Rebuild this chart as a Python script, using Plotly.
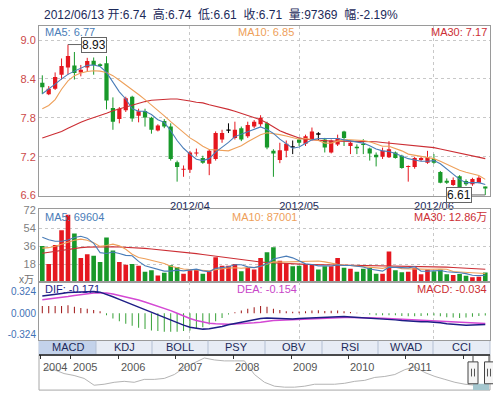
import plotly.graph_objects as go

W, H = 493, 399
FONT = "Liberation Sans, Arial, Noto Sans CJK SC, sans-serif"

# ---------------- data ----------------
date_ticks = [23, 40, 61]
date_labels = ["2012/04", "2012/05", "2012/06"]

opens = [8.34, 8.165, 8.25, 8.465, 8.575, 8.605, 8.50, 8.575, 8.68, 8.625,
         8.64, 7.95, 7.78, 7.915, 8.125, 7.83, 7.905, 7.80, 7.605, 7.75,
         7.665, 7.115, 7.00, 7.00, 7.25, 7.18, 7.09, 7.165, 7.465, 7.60,
         7.49, 7.64, 7.515, 7.665, 7.70, 7.715, 7.29, 7.15, 7.29, 7.34,
         7.465, 7.40, 7.465, 7.54, 7.465, 7.265, 7.39, 7.59, 7.365, 7.355,
         7.40, 7.325, 7.23, 7.20, 7.19, 7.265, 7.215, 7.04, 7.04, 7.15,
         7.105, 7.165, 6.965, 6.83, 6.765, 6.90, 6.825, 6.775, 6.80, 6.74]
highs = [8.455, 8.29, 8.50, 8.715, 8.93, 8.815, 8.615, 8.725, 8.73, 8.64,
         8.75, 8.115, 7.965, 8.125, 8.14, 7.94, 7.94, 7.815, 7.70, 7.78,
         7.715, 7.14, 7.065, 7.29, 7.325, 7.215, 7.315, 7.59, 7.615, 7.715,
         7.74, 7.665, 7.74, 7.765, 7.84, 7.74, 7.315, 7.415, 7.45, 7.45,
         7.49, 7.54, 7.65, 7.58, 7.49, 7.465, 7.54, 7.60, 7.45, 7.39,
         7.47, 7.34, 7.265, 7.34, 7.44, 7.28, 7.23, 7.065, 7.20, 7.20,
         7.29, 7.24, 6.98, 6.865, 6.88, 6.915, 6.85, 6.875, 6.90, 6.74]
lows = [8.165, 8.15, 8.23, 8.39, 8.465, 8.39, 8.44, 8.515, 8.465, 8.59,
        7.93, 7.615, 7.715, 7.89, 7.74, 7.73, 7.665, 7.555, 7.59, 7.64,
        7.14, 6.815, 6.89, 6.95, 7.215, 7.09, 6.915, 7.14, 7.415, 7.565,
        7.465, 7.44, 7.49, 7.64, 7.665, 7.315, 6.89, 7.10, 7.19, 7.24,
        7.365, 7.365, 7.45, 7.45, 7.265, 7.25, 7.365, 7.365, 7.24, 7.24,
        7.24, 7.14, 7.05, 7.165, 7.18, 7.17, 7.015, 6.815, 7.015, 7.13,
        7.09, 7.09, 6.79, 6.78, 6.75, 6.68, 6.75, 6.75, 6.79, 6.61]
closes = [8.27, 8.25, 8.43, 8.60, 8.755, 8.49, 8.54, 8.675, 8.615, 8.60,
          8.065, 7.74, 7.94, 8.10, 7.79, 7.90, 7.805, 7.615, 7.68, 7.665,
          7.165, 7.04, 7.015, 7.265, 7.265, 7.105, 7.29, 7.565, 7.565, 7.60,
          7.615, 7.465, 7.69, 7.74, 7.80, 7.34, 7.25, 7.30, 7.40, 7.34,
          7.415, 7.515, 7.59, 7.54, 7.34, 7.45, 7.49, 7.49, 7.415, 7.33,
          7.38, 7.25, 7.19, 7.29, 7.315, 7.18, 7.025, 7.055, 7.18, 7.18,
          7.19, 7.105, 6.80, 6.80, 6.84, 6.70, 6.775, 6.855, 6.875, 6.71]

ma5 = [8.17, 8.24, 8.32, 8.40, 8.47, 8.52, 8.57, 8.61, 8.615, 8.59,
       8.50, 8.34, 8.20, 8.09, 7.94, 7.90, 7.90, 7.85, 7.77, 7.73,
       7.60, 7.45, 7.33, 7.24, 7.16, 7.14, 7.17, 7.27, 7.34, 7.42,
       7.51, 7.55, 7.58, 7.62, 7.66, 7.62, 7.56, 7.47, 7.40, 7.33,
       7.35, 7.41, 7.46, 7.48, 7.48, 7.48, 7.48, 7.46, 7.44, 7.43,
       7.41, 7.37, 7.32, 7.29, 7.28, 7.25, 7.21, 7.17, 7.15, 7.13,
       7.13, 7.14, 7.09, 7.01, 6.94, 6.85, 6.80, 6.80, 6.80, 6.77]
ma10 = [7.94, 7.99, 8.08, 8.24, 8.37, 8.45, 8.49, 8.515, 8.525, 8.52,
        8.50, 8.45, 8.38, 8.31, 8.23, 8.16, 8.08, 8.00, 7.92, 7.83,
        7.74, 7.66, 7.58, 7.49, 7.43, 7.36, 7.31, 7.30, 7.29, 7.29,
        7.33, 7.37, 7.43, 7.49, 7.54, 7.57, 7.56, 7.54, 7.52, 7.49,
        7.47, 7.48, 7.47, 7.45, 7.41, 7.41, 7.44, 7.46, 7.46, 7.46,
        7.45, 7.43, 7.39, 7.36, 7.36, 7.33, 7.29, 7.24, 7.22, 7.20,
        7.18, 7.17, 7.13, 7.08, 7.03, 6.99, 6.96, 6.94, 6.91, 6.85]
ma30 = [7.49, 7.52, 7.555, 7.59, 7.64, 7.69, 7.73, 7.77, 7.80, 7.83,
        7.87, 7.91, 7.94, 7.97, 8.00, 8.03, 8.05, 8.07, 8.08, 8.09,
        8.09, 8.09, 8.08, 8.06, 8.04, 8.03, 8.00, 7.98, 7.96, 7.93,
        7.90, 7.87, 7.84, 7.81, 7.77, 7.72, 7.66, 7.60, 7.56, 7.52,
        7.49, 7.47, 7.46, 7.45, 7.45, 7.44, 7.44, 7.44, 7.44, 7.44,
        7.44, 7.435, 7.43, 7.42, 7.41, 7.41, 7.40, 7.39, 7.38, 7.37,
        7.35, 7.34, 7.32, 7.30, 7.28, 7.26, 7.24, 7.22, 7.20, 7.17]

volume = [36.2, 18.2, 37.2, 52.0, 67.4, 48.7, 24.1, 28.0, 26.4, 20.2,
          44.7, 31.6, 20.2, 17.5, 18.2, 16.5, 10.3, 12.0, 6.7, 9.3,
          16.9, 15.2, 8.4, 12.0, 12.6, 8.4, 11.0, 24.8, 16.5, 16.5,
          18.2, 10.8, 14.3, 12.6, 24.1, 30.0, 35.0, 21.5, 19.2, 15.9,
          16.5, 18.2, 18.2, 12.6, 15.9, 15.9, 24.1, 14.3, 13.3, 10.4,
          13.3, 14.3, 8.4, 8.4, 30.7, 12.0, 10.0, 10.4, 14.3, 7.8,
          12.6, 11.0, 12.6, 7.8, 7.2, 8.2, 6.5, 5.0, 5.4, 9.74]
vol_ma5 = [45.0, 42.5, 41.0, 41.0, 42.2, 44.7, 45.9, 44.0, 38.9, 29.5,
           28.7, 30.2, 28.6, 26.8, 26.4, 20.8, 16.5, 14.9, 12.7, 11.0,
           11.0, 12.0, 11.3, 12.4, 13.0, 11.3, 10.5, 13.8, 14.7, 15.4,
           17.4, 17.4, 15.3, 14.5, 16.0, 18.4, 23.2, 24.6, 26.0, 24.3,
           21.6, 18.3, 17.6, 16.3, 16.3, 16.2, 17.3, 16.6, 16.7, 15.6,
           15.1, 13.1, 11.9, 11.0, 15.0, 14.8, 13.9, 14.3, 15.5, 10.9,
           11.0, 11.2, 11.7, 10.4, 10.2, 9.4, 8.5, 6.9, 6.5, 6.96]
vol_ma10 = [34.0, 34.5, 36.0, 38.0, 40.0, 42.0, 43.0, 42.0, 39.5, 35.8,
            36.7, 38.0, 36.3, 32.9, 28.0, 24.7, 23.4, 21.8, 19.8, 18.7,
            15.9, 14.3, 13.1, 12.6, 12.0, 11.2, 11.3, 12.5, 13.5, 14.2,
            14.4, 13.9, 14.5, 14.6, 15.7, 17.9, 20.3, 20.0, 20.2, 20.2,
            20.0, 20.7, 21.1, 21.1, 20.3, 18.9, 17.8, 17.1, 16.5, 15.9,
            15.6, 15.2, 14.3, 13.8, 15.3, 14.9, 13.5, 13.1, 13.2, 13.0,
            12.9, 12.6, 13.0, 12.9, 10.6, 10.2, 9.8, 9.3, 8.4, 8.70]
vol_ma30 = [29.0, 30.0, 31.0, 32.0, 33.0, 34.0, 34.5, 35.0, 35.2, 35.4,
            35.5, 35.4, 35.2, 35.0, 34.7, 34.3, 33.8, 33.2, 32.6, 32.0,
            31.3, 30.6, 29.9, 29.2, 28.5, 27.6, 26.7, 25.8, 24.8, 23.9,
            23.0, 22.2, 21.4, 20.7, 20.1, 19.6, 19.2, 18.8, 18.5, 18.2,
            18.0, 17.8, 17.7, 17.6, 17.5, 17.4, 17.3, 17.2, 17.1, 17.0,
            16.9, 16.8, 16.7, 16.6, 16.6, 16.5, 16.4, 16.3, 16.2, 16.1,
            15.9, 15.6, 15.3, 15.0, 14.6, 14.2, 13.8, 13.5, 13.2, 12.86]

dif = [0.26, 0.27, 0.285, 0.30, 0.315, 0.32, 0.325, 0.33, 0.33, 0.32,
       0.29, 0.25, 0.21, 0.17, 0.13, 0.09, 0.05, 0.01, -0.03, -0.06,
       -0.10, -0.14, -0.18, -0.21, -0.23, -0.24, -0.235, -0.22, -0.20, -0.175,
       -0.155, -0.14, -0.12, -0.10, -0.08, -0.07, -0.075, -0.08, -0.085, -0.085,
       -0.08, -0.075, -0.065, -0.06, -0.06, -0.055, -0.05, -0.05, -0.055, -0.06,
       -0.065, -0.075, -0.085, -0.09, -0.095, -0.10, -0.11, -0.12, -0.125, -0.13,
       -0.13, -0.135, -0.145, -0.16, -0.17, -0.18, -0.18, -0.178, -0.174, -0.171]
dea = [0.205, 0.215, 0.23, 0.245, 0.255, 0.27, 0.285, 0.295, 0.305, 0.305,
       0.305, 0.29, 0.27, 0.25, 0.225, 0.20, 0.17, 0.14, 0.105, 0.08,
       0.04, 0.0, -0.045, -0.08, -0.11, -0.135, -0.15, -0.16, -0.165, -0.165,
       -0.163, -0.16, -0.155, -0.145, -0.135, -0.12, -0.11, -0.105, -0.10, -0.097,
       -0.094, -0.09, -0.086, -0.082, -0.078, -0.074, -0.07, -0.066, -0.064, -0.063,
       -0.063, -0.066, -0.07, -0.075, -0.08, -0.085, -0.09, -0.097, -0.103, -0.11,
       -0.114, -0.118, -0.123, -0.13, -0.137, -0.144, -0.148, -0.151, -0.153, -0.154]
macd_hist = [0.11, 0.11, 0.11, 0.11, 0.12, 0.10, 0.08, 0.07, 0.05, 0.03,
             -0.03, -0.08, -0.12, -0.16, -0.19, -0.22, -0.24, -0.26, -0.27, -0.28,
             -0.28, -0.28, -0.27, -0.26, -0.24, -0.21, -0.17, -0.12, -0.07, -0.02,
             0.016, 0.04, 0.07, 0.09, 0.11, 0.10, 0.07, 0.05, 0.03, 0.024,
             0.028, 0.03, 0.042, 0.044, 0.036, 0.038, 0.04, 0.032, 0.018, 0.006,
             -0.004, -0.018, -0.03, -0.03, -0.03, -0.03, -0.04, -0.046, -0.044, -0.04,
             -0.032, -0.034, -0.044, -0.06, -0.066, -0.072, -0.064, -0.054, -0.042, -0.034]

price_ticks = [6.6, 7.2, 7.8, 8.4, 9.0]
vol_ticks = [18, 36, 54, 72]
macd_ticks = [-0.324, 0.0, 0.324]
macd_tick_text = ["-0.324", "0.000", "0.324"]

nav_close = [9.6, 9.3, 8.1, 7.5, 6.6, 4.5, 4.8, 5.4, 5.7, 5.4,
             6.3, 6.3, 6.6, 7.8, 9.9, 11.4, 12.9, 12.3, 12.0, 12.0,
             12.0, 7.8, 5.4, 4.2, 3.9, 3.9, 4.2, 4.8, 4.8, 4.8,
             5.1, 5.7, 6.0, 6.9, 7.2, 7.8, 9.3, 10.2, 8.4, 7.2,
             6.3, 5.4, 4.8, 4.5, 4.2]
nav_year_pos = [0.17, 3.19, 7.98, 13.64, 19.39, 25.15, 30.87, 36.6, 42.35]
nav_year_labels = ["2004", "2005", "2006", "2007", "2008", "2009", "2010", "2011"]
tab_labels = ["MACD", "KDJ", "BOLL", "PSY", "OBV", "RSI", "WVAD", "CCI"]

# ---------------- styling ----------------
RED = "#e5171f"
GREEN = "#18992a"
BLACK = "#000000"
C_MA5 = "#4a7db8"
C_MA10 = "#eea05a"
C_MA30 = "#cc2e34"
NAVY = "#1c2a5a"
GRID = "#c8c8c8"
FRAME = "#9a9a9a"


def px(x):
    return x / W


def py(y):
    return 1 - y / H


idx = list(range(len(closes)))
fig = go.Figure()

# candle wicks
for col in (RED, GREEN, BLACK):
    xs, ys = [], []
    for i, o, h, l, c in zip(idx, opens, highs, lows, closes):
        cc = RED if c > o else (GREEN if c < o else BLACK)
        if cc == col:
            xs += [i, i, None]
            ys += [l, h, None]
    fig.add_trace(go.Scatter(x=xs, y=ys, mode="lines", line=dict(color=col, width=1),
                             hoverinfo="skip", xaxis="x", yaxis="y"))

candle_colors = [RED if c > o else (GREEN if c < o else BLACK) for o, c in zip(opens, closes)]
body_base = [min(o, c) for o, c in zip(opens, closes)]
body_h = [abs(c - o) if c != o else 0.02 for o, c in zip(opens, closes)]
fig.add_trace(go.Bar(x=idx, y=body_h, base=body_base, width=0.66,
                     marker=dict(color=candle_colors, line=dict(width=0)),
                     xaxis="x", yaxis="y"))

for arr, col in ((ma30, C_MA30), (ma10, C_MA10), (ma5, C_MA5)):
    fig.add_trace(go.Scatter(x=idx, y=arr, mode="lines", line=dict(color=col, width=1.1),
                             xaxis="x", yaxis="y"))

# volume
vol_colors = []
for i, (o, c) in enumerate(zip(opens, closes)):
    if c > o:
        vol_colors.append(RED)
    elif c < o:
        vol_colors.append(GREEN)
    else:
        vol_colors.append(RED if i > 0 and c >= closes[i - 1] else GREEN)
fig.add_trace(go.Bar(x=idx, y=volume, width=0.72, marker=dict(color=vol_colors, line=dict(width=0)),
                     xaxis="x2", yaxis="y2"))
for arr, col in ((vol_ma30, C_MA30), (vol_ma10, C_MA10), (vol_ma5, C_MA5)):
    fig.add_trace(go.Scatter(x=idx, y=arr, mode="lines", line=dict(color=col, width=1.1),
                             xaxis="x2", yaxis="y2"))

# MACD
hist_colors = ["#a01818" if v > 0 else "#3aa33a" for v in macd_hist]
fig.add_trace(go.Bar(x=idx, y=macd_hist, width=0.16, marker=dict(color=hist_colors, line=dict(width=0)),
                     xaxis="x3", yaxis="y3"))
fig.add_trace(go.Scatter(x=idx, y=dea, mode="lines", line=dict(color="#d448d4", width=1.5),
                         xaxis="x3", yaxis="y3"))
fig.add_trace(go.Scatter(x=idx, y=dif, mode="lines", line=dict(color="#1e1e86", width=1.5),
                         xaxis="x3", yaxis="y3"))

# navigator
fig.add_trace(go.Scatter(x=[k + 0.5 for k in range(len(nav_close))], y=nav_close, mode="lines",
                         line=dict(color="#b4b4b4", width=1), xaxis="x4", yaxis="y4"))

XR = [-0.514, 69.735]
XD = [px(39), px(490)]
common_x = dict(domain=XD, range=XR, tickvals=date_ticks, showgrid=True, gridcolor=GRID,
                griddash="dot", gridwidth=1, zeroline=False, showline=True, linecolor=FRAME,
                linewidth=1, mirror=True, ticks="", fixedrange=True)
common_y = dict(zeroline=False, showline=True, linecolor=FRAME, linewidth=1, mirror=True,
                ticks="", fixedrange=True)

fig.update_layout(
    width=W, height=H, margin=dict(l=0, r=0, t=0, b=0),
    paper_bgcolor="white", plot_bgcolor="white", showlegend=False,
    barmode="overlay", font=dict(family=FONT, size=11, color=NAVY),
    xaxis=dict(common_x, anchor="y", ticktext=date_labels, showticklabels=True,
               tickfont=dict(size=11, color=NAVY), ticklabelstandoff=0),
    yaxis=dict(common_y, domain=[py(196), py(22)], range=[6.6, 9.21], anchor="x",
               tickvals=price_ticks, ticktext=["6.6", "7.2", "7.8", "8.4", "9.0"],
               tickfont=dict(size=11, color="#cc4848"), showgrid=True, gridcolor=GRID, griddash="dot"),
    xaxis2=dict(common_x, anchor="y2", showticklabels=False),
    yaxis2=dict(common_y, domain=[py(285), py(210)], range=[0, 73], anchor="x2",
                tickvals=vol_ticks, tickfont=dict(size=11, color="#808080"),
                showgrid=True, gridcolor=GRID, griddash="dot"),
    xaxis3=dict(common_x, anchor="y3", showticklabels=False),
    yaxis3=dict(common_y, domain=[py(345), py(285)], range=[-0.412, 0.471], anchor="x3",
                tickvals=macd_ticks, ticktext=macd_tick_text, tickfont=dict(size=10, color="#3f72b5"),
                showgrid=False),
    xaxis4=dict(domain=XD, range=[0, 45], anchor="y4", side="top", tickvals=nav_year_pos,
                ticks="inside", ticklen=4, tickcolor="#333", showticklabels=False, showgrid=False,
                zeroline=False, showline=False, fixedrange=True),
    yaxis4=dict(domain=[py(396), py(360)], range=[3.0, 13.8], anchor="x4", visible=False,
                fixedrange=True),
)

ann = []


def txt(x, y, s, color, size=11, xanchor="left", **kw):
    ann.append(dict(x=px(x), y=py(y), xref="paper", yref="paper", text=s, showarrow=False,
                    xanchor=xanchor, yanchor="middle", font=dict(size=size, color=color, family=FONT), **kw))


txt(42, 10, "2012/06/13 开:6.74  高:6.74  低:6.61  收:6.71  量:97369  幅:-2.19%", NAVY, size=12)
txt(43, 28, "MA5: 6.77", C_MA5)
txt(236, 28, "MA10: 6.85", C_MA10)
txt(489, 28, "MA30: 7.17", C_MA30, xanchor="right")
txt(43, 218, "MA5: 69604", C_MA5)
txt(230, 218, "MA10: 87001", C_MA10)
txt(489, 218, "MA30: 12.86万", C_MA30, xanchor="right")
txt(43, 292, "DIF: -0.171", "#1e1e86")
txt(235, 292, "DEA: -0.154", "#c846c8")
txt(489, 292, "MACD: -0.034", C_MA30, xanchor="right")
txt(36, 282.5, "x万", "#707070", size=10, xanchor="right")

# high / low markers
ann.append(dict(x=4, y=8.93, xref="x", yref="y", text="8.93", showarrow=True, arrowhead=0,
                arrowwidth=1, arrowcolor="#666", ax=26, ay=0, bgcolor="white", bordercolor="#666",
                borderwidth=1, borderpad=0, font=dict(size=12, color="#111", family=FONT)))
ann.append(dict(x=69, y=6.61, xref="x", yref="y", text="6.61", showarrow=True, arrowhead=0,
                arrowwidth=1, arrowcolor="#666", ax=-26, ay=0, bgcolor="white", bordercolor="#666",
                borderwidth=1, borderpad=0, font=dict(size=12, color="#111", family=FONT)))

# tab bar
tab_edges = [39, 96, 152, 208, 265, 322, 378, 433, 490]
for i, lab in enumerate(tab_labels):
    txt((tab_edges[i] + tab_edges[i + 1]) / 2, 352, lab, NAVY, size=11, xanchor="center")

# navigator year labels
for pos, lab in zip(nav_year_pos, nav_year_labels):
    ann.append(dict(x=pos, y=py(372), xref="x4", yref="paper", text=lab, showarrow=False,
                    xanchor="left", yanchor="middle", xshift=0,
                    font=dict(size=11, color="#555", family=FONT)))

shapes = []


def rect(x0, y0, x1, y1, fill=None, line=None, lw=1, layer="above"):
    shapes.append(dict(type="rect", xref="paper", yref="paper", x0=px(x0), x1=px(x1), y0=py(y1), y1=py(y0),
                       fillcolor=fill if fill else "rgba(0,0,0,0)",
                       line=dict(color=line if line else "rgba(0,0,0,0)", width=lw if line else 0),
                       layer=layer))


def seg(x0, y0, x1, y1, color, lw=1):
    shapes.append(dict(type="line", xref="paper", yref="paper", x0=px(x0), x1=px(x1), y0=py(y0), y1=py(y1),
                       line=dict(color=color, width=lw)))


rect(39, 345, 490, 360, fill="#e7ecf5", line="#b9c3d4", layer="below")
rect(39, 345, 96, 360, fill="#c3d2ea", layer="below")
for xe in tab_edges[1:-1]:
    seg(xe, 345, xe, 360, "#b3bfd3")
rect(39, 360, 490, 396, line="#a8a8a8", layer="below")
seg(39, 360, 490, 360, "#222", 1.5)
# selected range on navigator
rect(473, 389.5, 489, 396, fill="#a5c7cf", layer="above")
for hx0, hx1, hc in ((468, 478, 473), (484.5, 494, 489)):
    seg(hc, 361, hc, 367, "#444")
    rect(hx0, 367, hx1, 389.5, fill="#f5f5f5", line="#444")
    seg(hc - 1.5, 374, hc - 1.5, 382, "#555")
    seg(hc + 1.5, 374, hc + 1.5, 382, "#555")

fig.update_layout(annotations=ann, shapes=shapes)
fig.write_html("out.html", config={"displayModeBar": False, "staticPlot": True},
               post_script="document.body.style.margin='0';document.body.style.overflow='hidden';")
